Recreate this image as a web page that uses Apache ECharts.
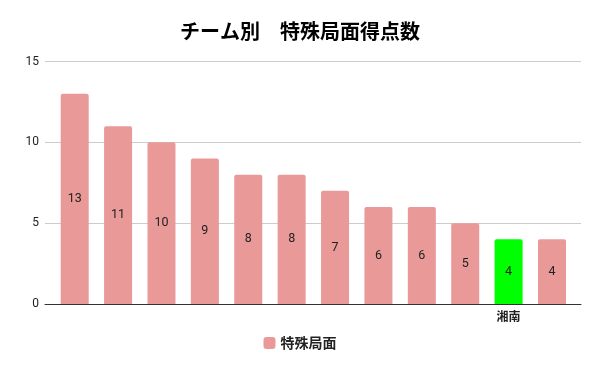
<!DOCTYPE html>
<html>
<head>
<meta charset="utf-8">
<script src="https://cdn.jsdelivr.net/npm/echarts@6/dist/echarts.min.js"></script>
<style>html,body{margin:0;padding:0;background:#fff}#c{width:600px;height:371px}</style>
</head>
<body>
<div id="c"></div>
<script>
const titleText = 'チーム別　特殊局面得点数';
const seriesName = '特殊局面';
const categories = ['', '', '', '', '', '', '', '', '', '', '湘南', ''];
const values = [13, 11, 10, 9, 8, 8, 7, 6, 6, 5, 4, 4];
const highlightCategory = '湘南';
const yTicks = { min: 0, max: 15, interval: 5 };

const FONT = "Roboto, 'Noto Sans CJK JP', sans-serif";
const BAR = '#ea9999';
const HL = '#00ff00';

const chart = echarts.init(document.getElementById('c'), null, { renderer: 'canvas' });
const gridBase = { top: 61.5, bottom: 67 };

chart.setOption({
  animation: false,
  title: {
    text: titleText, left: 'center', top: 16,
    textStyle: { fontFamily: "'Noto Sans CJK JP', sans-serif", fontWeight: 'bold', fontSize: 20, color: '#000' }
  },
  legend: {
    data: [{ name: seriesName, itemStyle: { color: BAR } }],
    bottom: 16, left: 'center', icon: 'roundRect', itemWidth: 12, itemHeight: 12, itemGap: 8,
    textStyle: { fontFamily: "'Noto Sans CJK JP', sans-serif", fontWeight: 'bold', fontSize: 14, color: '#222' }
  },
  grid: [
    Object.assign({ left: 45, right: 19 }, gridBase),
    Object.assign({ left: 53, right: 26.3 }, gridBase)
  ],
  xAxis: [
    { type: 'value', gridIndex: 0, min: 0, max: 1, show: true,
      axisLine: { show: true, onZero: false, lineStyle: { color: '#333', width: 1 } },
      axisTick: { show: false }, axisLabel: { show: false }, splitLine: { show: false } },
    { type: 'category', gridIndex: 1, data: categories,
      axisLine: { show: false }, axisTick: { show: false },
      axisLabel: { interval: 0, margin: 6, fontFamily: "'Noto Sans CJK JP', sans-serif", fontWeight: 'bold', fontSize: 12, color: '#222' } }
  ],
  yAxis: [
    { type: 'value', gridIndex: 0, min: yTicks.min, max: yTicks.max, interval: yTicks.interval,
      axisLine: { show: false }, axisTick: { show: false },
      axisLabel: { margin: 6, fontFamily: FONT, fontSize: 12, color: '#222' },
      splitLine: { lineStyle: { color: '#cccccc', width: 1 } } },
    { type: 'value', gridIndex: 1, min: yTicks.min, max: yTicks.max, interval: yTicks.interval, show: false }
  ],
  series: [{
    name: seriesName, type: 'bar', xAxisIndex: 1, yAxisIndex: 1, barWidth: 28, z: 3,
    data: values.map((v, i) => ({
      value: v,
      itemStyle: { color: categories[i] === highlightCategory ? HL : BAR, borderRadius: [2, 2, 0, 0] }
    })),
    itemStyle: { color: BAR },
    label: { show: true, position: 'inside', fontFamily: FONT, fontSize: 12.5, color: '#222' }
  }]
});
</script>
</body>
</html>
